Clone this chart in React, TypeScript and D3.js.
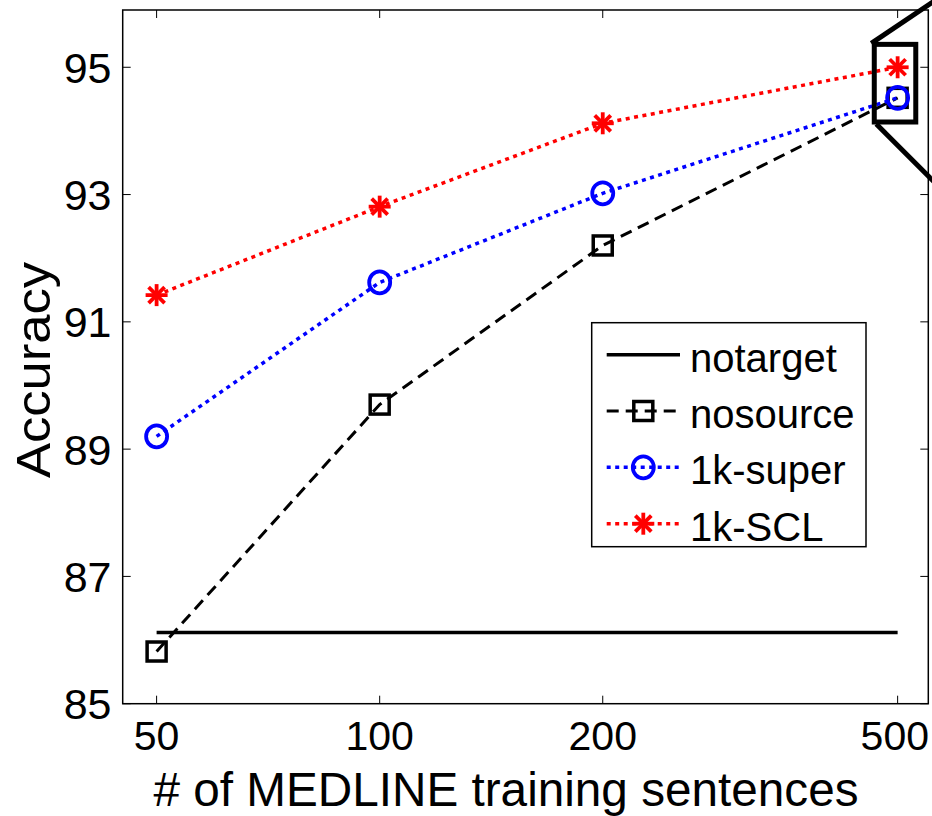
import React from "react";
import * as d3 from "d3";

// Training-set sizes (log x axis) and accuracies for each system
const sizes = [50, 100, 200, 500];
const notarget = [86.12, 86.12, 86.12, 86.12];
const nosource = [85.82, 89.7, 92.2, 94.52];
const superVals = [89.2, 91.62, 93.02, 94.52];
const sclVals = [91.42, 92.81, 94.12, 95.0];

const yTicks = [85, 87, 89, 91, 93, 95];
const xTicks = [50, 100, 200, 500];
const seriesNames = ["notarget", "nosource", "1k-super", "1k-SCL"];

// Region around the 500-sentence points that is magnified elsewhere
const zoomX = [465, 529];
const zoomY = [94.14, 95.36];

const W = 932;
const H = 816;
const FONT = "'Liberation Sans', Arial, Helvetica, sans-serif";
const XTICK_FS = 41;

const x = d3.scaleLog().domain([45, 550]).range([122.7, 928.3]);
const y = d3.scaleLinear().domain([85, 95.9]).range([703.7, 10]);

type Marker = "none" | "square" | "circle" | "star";

const series: { name: string; values: number[]; color: string; dash: string | undefined; width: number; marker: Marker }[] = [
  { name: seriesNames[0], values: notarget, color: "#000", dash: undefined, width: 3.5, marker: "none" },
  { name: seriesNames[1], values: nosource, color: "#000", dash: "12 7", width: 3, marker: "square" },
  { name: seriesNames[2], values: superVals, color: "#0000ff", dash: "4 4.5", width: 3.5, marker: "circle" },
  { name: seriesNames[3], values: sclVals, color: "#ff0000", dash: "4 4.5", width: 3.5, marker: "star" },
];

function MarkerShape({ kind, cx, cy, color }: { kind: Marker; cx: number; cy: number; color: string }) {
  if (kind === "square") {
    return <rect x={cx - 9.5} y={cy - 9.5} width={19} height={19} fill="none" stroke={color} strokeWidth={3.5} />;
  }
  if (kind === "circle") {
    return <ellipse cx={cx} cy={cy} rx={10.5} ry={11} fill="none" stroke={color} strokeWidth={3.8} />;
  }
  if (kind === "star") {
    const a = 11;
    const b = 8;
    return (
      <g stroke={color} strokeWidth={3.8} strokeLinecap="butt">
        <line x1={cx - a} y1={cy} x2={cx + a} y2={cy} />
        <line x1={cx} y1={cy - a} x2={cx} y2={cy + a} />
        <line x1={cx - b} y1={cy - b} x2={cx + b} y2={cy + b} />
        <line x1={cx - b} y1={cy + b} x2={cx + b} y2={cy - b} />
      </g>
    );
  }
  return null;
}

export default function App() {
  const [x0, x1] = x.range();
  const [y0, y1] = y.range();
  const line = d3
    .line<[number, number]>()
    .x((d) => x(d[0]))
    .y((d) => y(d[1]));

  // legend geometry
  const lg = { left: 591.7, top: 322.7, right: 866, bottom: 546.7 };
  const baselines = [371.7, 428, 484.3, 540.7];

  // magnifier box corners
  const zx0 = x(zoomX[0]);
  const zx1 = x(zoomX[1]);
  const zy0 = y(zoomY[1]);
  const zy1 = y(zoomY[0]);

  return (
    <svg
      width={W}
      height={H}
      style={{ position: "absolute", left: 0, top: 0, background: "#fff" }}
      fontFamily={FONT}
    >
      <rect width={W} height={H} fill="#fff" />

      {/* data lines */}
      {series.map((s) => (
        <path
          key={s.name}
          d={line(sizes.map((v, i) => [v, s.values[i]]) as [number, number][]) || ""}
          fill="none"
          stroke={s.color}
          strokeWidth={s.width}
          strokeDasharray={s.dash}
        />
      ))}
      {/* markers */}
      {series.map((s) =>
        sizes.map((v, i) => (
          <MarkerShape key={s.name + i} kind={s.marker} cx={x(v)} cy={y(s.values[i])} color={s.color} />
        ))
      )}

      {/* axes frame */}
      <rect x={x0} y={y1} width={x1 - x0} height={y0 - y1} fill="none" stroke="#000" strokeWidth={1.5} />
      {yTicks.map((t) => (
        <g key={"y" + t}>
          <line x1={x0} x2={x0 + 8} y1={y(t)} y2={y(t)} stroke="#000" strokeWidth={1} />
          <line x1={x1 - 8} x2={x1} y1={y(t)} y2={y(t)} stroke="#000" strokeWidth={1} />
          <text x={111.5} y={y(t) + 15.5} fontSize={43} textAnchor="end" fill="#000">
            {t}
          </text>
        </g>
      ))}
      {xTicks.map((t) => {
        const label = String(t);
        // keep the rightmost label inside the canvas
        const half = (label.length * 0.556 * XTICK_FS) / 2;
        const cx = Math.min(x(t), W - 3 - half);
        return (
          <g key={"x" + t}>
            <line x1={x(t)} x2={x(t)} y1={y0} y2={y0 - 8} stroke="#000" strokeWidth={1} />
            <line x1={x(t)} x2={x(t)} y1={y1} y2={y1 + 8} stroke="#000" strokeWidth={1} />
            <text x={cx} y={750} fontSize={XTICK_FS} textAnchor="middle" fill="#000">
              {label}
            </text>
          </g>
        );
      })}

      {/* axis titles */}
      <text
        x={506}
        y={806}
        fontSize={48}
        textAnchor="middle"
        textLength={705}
        lengthAdjust="spacingAndGlyphs"
        fill="#000"
      >
        # of MEDLINE training sentences
      </text>
      <text
        transform="translate(50,370) rotate(-90)"
        fontSize={48}
        textAnchor="middle"
        textLength={216}
        lengthAdjust="spacingAndGlyphs"
        fill="#000"
      >
        Accuracy
      </text>

      {/* legend */}
      <rect
        x={lg.left}
        y={lg.top}
        width={lg.right - lg.left}
        height={lg.bottom - lg.top}
        fill="#fff"
        stroke="#000"
        strokeWidth={1.5}
      />
      {series.map((s, i) => {
        const cy = baselines[i] - 17;
        return (
          <g key={"lg" + s.name}>
            <line
              x1={606.7}
              x2={680}
              y1={cy}
              y2={cy}
              stroke={s.color}
              strokeWidth={s.width}
              strokeDasharray={s.dash}
            />
            <MarkerShape kind={s.marker} cx={643.3} cy={cy} color={s.color} />
            <text x={690} y={baselines[i]} fontSize={40} fill="#000">
              {s.name}
            </text>
          </g>
        );
      })}

      {/* magnifier box and its leader lines */}
      <rect x={zx0} y={zy0} width={zx1 - zx0} height={zy1 - zy0} fill="none" stroke="#000" strokeWidth={5} />
      <line x1={zx0 - 3} y1={zy0 - 1} x2={zx0 - 3 + 64 * 2} y2={zy0 - 1 - 43 * 2} stroke="#000" strokeWidth={5} />
      <line x1={zx0 + 2} y1={zy1 + 2} x2={zx0 + 2 + 55 * 2} y2={zy1 + 2 + 55 * 2} stroke="#000" strokeWidth={5} />
    </svg>
  );
}
